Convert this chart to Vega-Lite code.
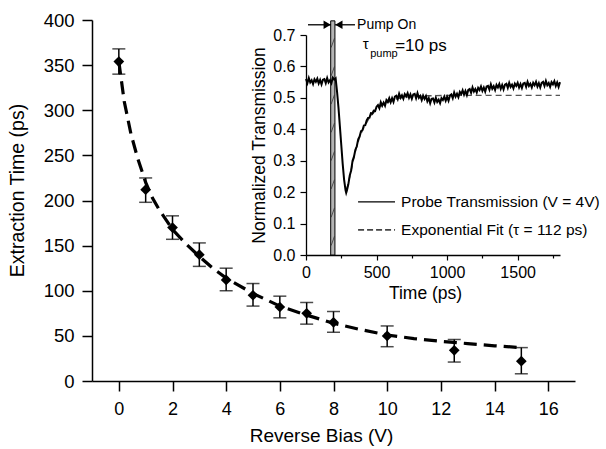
{
  "$schema": "https://vega.github.io/schema/vega-lite/v6.json",
  "width": 483,
  "height": 361,
  "autosize": "none",
  "padding": {"left": 92, "top": 20, "right": 31, "bottom": 68},
  "background": "white",
  "config": {
    "view": {"stroke": null},
    "font": "Liberation Sans",
    "axis": {"grid": false, "domainColor": "black", "tickColor": "black", "labelColor": "black", "titleColor": "black", "titleFontWeight": "normal", "labelFont": "Liberation Sans", "titleFont": "Liberation Sans", "labelOverlap": false, "labelFlush": false}
  },
  "datasets": {
    "points": [
      {"bias": 0, "time": 354, "lo": 340, "hi": 368},
      {"bias": 1, "time": 212, "lo": 198, "hi": 225},
      {"bias": 2, "time": 170, "lo": 157, "hi": 183},
      {"bias": 3, "time": 140, "lo": 127, "hi": 153},
      {"bias": 4, "time": 112, "lo": 100, "hi": 125},
      {"bias": 5, "time": 95, "lo": 83, "hi": 108},
      {"bias": 6, "time": 82, "lo": 70, "hi": 94},
      {"bias": 7, "time": 75, "lo": 63, "hi": 87},
      {"bias": 8, "time": 65, "lo": 54, "hi": 77},
      {"bias": 10, "time": 50, "lo": 38, "hi": 61},
      {"bias": 12.5, "time": 34, "lo": 21, "hi": 46},
      {"bias": 15, "time": 22, "lo": 8, "hi": 37}
    ],
    "fit": [
      {"bias": 0, "time": 354}, {"bias": 0.2, "time": 310}, {"bias": 0.45, "time": 274}, {"bias": 0.7, "time": 247},
      {"bias": 1, "time": 220}, {"bias": 1.25, "time": 203}, {"bias": 1.5, "time": 190}, {"bias": 2, "time": 168},
      {"bias": 2.5, "time": 152}, {"bias": 3, "time": 138}, {"bias": 3.5, "time": 125}, {"bias": 4, "time": 114},
      {"bias": 5, "time": 97}, {"bias": 6, "time": 83}, {"bias": 7, "time": 73}, {"bias": 8, "time": 64},
      {"bias": 9, "time": 57}, {"bias": 10, "time": 51}, {"bias": 11, "time": 47}, {"bias": 12, "time": 44},
      {"bias": 13, "time": 41.5}, {"bias": 14, "time": 39}, {"bias": 15, "time": 37}
    ],
    "trace": [
      {"t":0,"v":0.560},{"t":10,"v":0.547},{"t":20,"v":0.563},{"t":30,"v":0.549},{"t":40,"v":0.556},{"t":50,"v":0.544},{"t":60,"v":0.559},{"t":70,"v":0.551},{"t":80,"v":0.561},{"t":90,"v":0.546},
      {"t":100,"v":0.557},{"t":110,"v":0.543},{"t":120,"v":0.558},{"t":130,"v":0.560},{"t":140,"v":0.547},{"t":150,"v":0.563},{"t":160,"v":0.549},{"t":170,"v":0.556},{"t":180,"v":0.547},{"t":190,"v":0.564},
      {"t":200,"v":0.558},{"t":210,"v":0.562},{"t":220,"v":0.520},{"t":230,"v":0.470},{"t":240,"v":0.410},{"t":250,"v":0.350},{"t":260,"v":0.290},{"t":270,"v":0.240},{"t":280,"v":0.207},{"t":285,"v":0.198},
      {"t":290,"v":0.205},{"t":300,"v":0.225},{"t":310,"v":0.253},{"t":320,"v":0.269},{"t":330,"v":0.300},{"t":340,"v":0.313},{"t":350,"v":0.335},{"t":360,"v":0.346},{"t":370,"v":0.368},{"t":380,"v":0.377},
      {"t":390,"v":0.394},{"t":400,"v":0.397},{"t":410,"v":0.412},{"t":420,"v":0.413},{"t":430,"v":0.428},{"t":440,"v":0.436},{"t":450,"v":0.437},{"t":460,"v":0.451},{"t":470,"v":0.450},{"t":480,"v":0.459},
      {"t":490,"v":0.458},{"t":500,"v":0.472},{"t":510,"v":0.477},{"t":520,"v":0.467},{"t":530,"v":0.486},{"t":540,"v":0.475},{"t":550,"v":0.485},{"t":560,"v":0.475},{"t":570,"v":0.493},{"t":580,"v":0.487},
      {"t":590,"v":0.499},{"t":600,"v":0.486},{"t":610,"v":0.499},{"t":620,"v":0.487},{"t":630,"v":0.504},{"t":640,"v":0.507},{"t":650,"v":0.496},{"t":660,"v":0.513},{"t":670,"v":0.500},{"t":680,"v":0.508},
      {"t":690,"v":0.497},{"t":700,"v":0.512},{"t":710,"v":0.505},{"t":720,"v":0.515},{"t":730,"v":0.500},{"t":740,"v":0.511},{"t":750,"v":0.497},{"t":760,"v":0.511},{"t":770,"v":0.513},{"t":780,"v":0.499},
      {"t":790,"v":0.515},{"t":800,"v":0.500},{"t":810,"v":0.506},{"t":820,"v":0.493},{"t":830,"v":0.507},{"t":840,"v":0.497},{"t":850,"v":0.506},{"t":860,"v":0.489},{"t":870,"v":0.499},{"t":880,"v":0.483},
      {"t":890,"v":0.497},{"t":900,"v":0.498},{"t":910,"v":0.485},{"t":920,"v":0.500},{"t":930,"v":0.487},{"t":940,"v":0.494},{"t":950,"v":0.483},{"t":960,"v":0.499},{"t":970,"v":0.493},{"t":980,"v":0.504},
      {"t":990,"v":0.491},{"t":1000,"v":0.503},{"t":1010,"v":0.491},{"t":1020,"v":0.507},{"t":1030,"v":0.511},{"t":1040,"v":0.499},{"t":1050,"v":0.517},{"t":1060,"v":0.504},{"t":1070,"v":0.513},{"t":1080,"v":0.502},
      {"t":1090,"v":0.519},{"t":1100,"v":0.512},{"t":1110,"v":0.524},{"t":1120,"v":0.510},{"t":1130,"v":0.522},{"t":1140,"v":0.509},{"t":1150,"v":0.525},{"t":1160,"v":0.528},{"t":1170,"v":0.516},{"t":1180,"v":0.533},
      {"t":1190,"v":0.520},{"t":1200,"v":0.528},{"t":1210,"v":0.517},{"t":1220,"v":0.532},{"t":1230,"v":0.525},{"t":1240,"v":0.536},{"t":1250,"v":0.522},{"t":1260,"v":0.533},{"t":1270,"v":0.520},{"t":1280,"v":0.536},
      {"t":1290,"v":0.538},{"t":1300,"v":0.526},{"t":1310,"v":0.543},{"t":1320,"v":0.529},{"t":1330,"v":0.537},{"t":1340,"v":0.525},{"t":1350,"v":0.541},{"t":1360,"v":0.533},{"t":1370,"v":0.544},{"t":1380,"v":0.529},
      {"t":1390,"v":0.541},{"t":1400,"v":0.527},{"t":1410,"v":0.542},{"t":1420,"v":0.545},{"t":1430,"v":0.532},{"t":1440,"v":0.548},{"t":1450,"v":0.535},{"t":1460,"v":0.542},{"t":1470,"v":0.530},{"t":1480,"v":0.545},
      {"t":1490,"v":0.538},{"t":1500,"v":0.548},{"t":1510,"v":0.533},{"t":1520,"v":0.544},{"t":1530,"v":0.531},{"t":1540,"v":0.546},{"t":1550,"v":0.548},{"t":1560,"v":0.535},{"t":1570,"v":0.551},{"t":1580,"v":0.538},
      {"t":1590,"v":0.545},{"t":1600,"v":0.533},{"t":1610,"v":0.548},{"t":1620,"v":0.540},{"t":1630,"v":0.551},{"t":1640,"v":0.536},{"t":1650,"v":0.547},{"t":1660,"v":0.533},{"t":1670,"v":0.548},{"t":1680,"v":0.551},
      {"t":1690,"v":0.538},{"t":1700,"v":0.554},{"t":1710,"v":0.540},{"t":1720,"v":0.547},{"t":1730,"v":0.535},{"t":1740,"v":0.550},{"t":1750,"v":0.543},{"t":1760,"v":0.553},{"t":1770,"v":0.538},{"t":1780,"v":0.549},
      {"t":1790,"v":0.535},{"t":1800,"v":0.550}
    ],
    "inset_fit": [
      {"t":285,"v":0.205},{"t":300,"v":0.228},{"t":320,"v":0.270},{"t":350,"v":0.330},{"t":380,"v":0.375},{"t":400,"v":0.397},
      {"t":450,"v":0.437},{"t":500,"v":0.464},{"t":550,"v":0.480},{"t":600,"v":0.490},{"t":650,"v":0.498},{"t":700,"v":0.502},
      {"t":800,"v":0.506},{"t":900,"v":0.507},{"t":1000,"v":0.508},{"t":1200,"v":0.508},{"t":1500,"v":0.508},{"t":1800,"v":0.508}
    ],
    "pump": [{"t": 175, "t2": 205, "v": 0, "v2": 0.745}],
    "hatch": [
      {"t": 178, "t2": 202, "v": 0.03, "v2": 0.06}, {"t": 178, "t2": 202, "v": 0.12, "v2": 0.15},
      {"t": 178, "t2": 202, "v": 0.21, "v2": 0.24}, {"t": 178, "t2": 202, "v": 0.30, "v2": 0.33},
      {"t": 178, "t2": 202, "v": 0.39, "v2": 0.42}, {"t": 178, "t2": 202, "v": 0.48, "v2": 0.51},
      {"t": 178, "t2": 202, "v": 0.57, "v2": 0.60}, {"t": 178, "t2": 202, "v": 0.66, "v2": 0.69}
    ],
    "arrows": [{"t": 14, "t2": 177, "v": 0.7325}, {"t": 347, "t2": 206, "v": 0.7325}],
    "head_r": [{"t": 150, "v": 0.7325}],
    "head_l": [{"t": 233, "v": 0.7325}],
    "pumpon": [{"t": 362, "v": 0.7325, "label": "Pump On"}],
    "tau": [{"t": 402, "v": 0.672, "label": "τ"}],
    "sub": [{"t": 455, "v": 0.640, "label": "pump"}],
    "eq": [{"t": 632, "v": 0.664, "label": "=10 ps"}],
    "leg_solid": [{"t": 369, "t2": 631, "v": 0.169}],
    "leg_dash": [{"t": 369, "t2": 631, "v": 0.080}],
    "leg_text": [
      {"t": 674, "v": 0.169, "label": "Probe Transmission (V = 4V)"},
      {"t": 674, "v": 0.080, "label": "Exponential Fit (τ = 112 ps)"}
    ]
  },
  "layer": [
    {
      "layer": [
        {
          "data": {"name": "fit"},
          "mark": {"type": "line", "color": "black", "strokeWidth": 3.2, "strokeDash": [13, 7]},
          "encoding": {
            "x": {"field": "bias", "type": "quantitative", "title": "Reverse Bias (V)",
              "scale": {"domain": [-1, 17], "nice": false, "zero": false},
              "axis": {"orient": "bottom", "values": [0,1,2,3,4,5,6,7,8,9,10,11,12,13,14,15,16],
                "labelExpr": "datum.value % 2 === 0 ? datum.label : ''",
                "tickSize": {"condition": {"test": "datum.value % 2 === 0", "value": 10}, "value": 5},
                "tickWidth": 1.5, "domainWidth": 1.5, "labelFontSize": 18, "titleFontSize": 19,
                "labelPadding": 9, "titlePadding": 8, "titleX": 229}},
            "y": {"field": "time", "type": "quantitative", "title": "Extraction Time (ps)",
              "scale": {"domain": [0, 400], "nice": false},
              "axis": {"orient": "left", "values": [0,25,50,75,100,125,150,175,200,225,250,275,300,325,350,375,400],
                "labelExpr": "datum.value % 50 === 0 ? datum.label : ''",
                "tickSize": {"condition": {"test": "datum.value % 50 === 0", "value": 10}, "value": 5},
                "tickWidth": 1.5, "domainWidth": 1.5, "labelFontSize": 18.5, "titleFontSize": 19.5,
                "labelPadding": 8, "titlePadding": 16, "titleY": 170}}
          }
        },
        {
          "data": {"name": "points"},
          "mark": {"type": "rule", "color": "black", "strokeWidth": 1.5},
          "encoding": {
            "x": {"field": "bias", "type": "quantitative", "title": "Reverse Bias (V)"},
            "y": {"field": "lo", "type": "quantitative", "title": "Extraction Time (ps)"},
            "y2": {"field": "hi"}
          }
        },
        {
          "data": {"name": "points"},
          "mark": {"type": "tick", "orient": "horizontal", "color": "black", "size": 13, "thickness": 1.5},
          "encoding": {
            "x": {"field": "bias", "type": "quantitative", "title": "Reverse Bias (V)"},
            "y": {"field": "lo", "type": "quantitative", "title": "Extraction Time (ps)"}
          }
        },
        {
          "data": {"name": "points"},
          "mark": {"type": "tick", "orient": "horizontal", "color": "black", "size": 13, "thickness": 1.5},
          "encoding": {
            "x": {"field": "bias", "type": "quantitative", "title": "Reverse Bias (V)"},
            "y": {"field": "hi", "type": "quantitative", "title": "Extraction Time (ps)"}
          }
        },
        {
          "data": {"name": "points"},
          "mark": {"type": "point", "shape": "diamond", "filled": true, "color": "black", "size": 115, "opacity": 1},
          "encoding": {
            "x": {"field": "bias", "type": "quantitative", "title": "Reverse Bias (V)"},
            "y": {"field": "time", "type": "quantitative", "title": "Extraction Time (ps)"}
          }
        }
      ]
    },
    {
      "layer": [
        {
          "data": {"name": "pump"},
          "mark": {"type": "rect", "fill": "#b4b4b4", "stroke": "black", "strokeWidth": 1},
          "encoding": {
            "x": {"field": "t", "type": "quantitative", "title": "Time (ps)",
              "scale": {"domain": [0, 1800], "range": [214, 468], "nice": false, "zero": false},
              "axis": {"orient": "bottom", "offset": -126, "values": [0,250,500,750,1000,1250,1500,1750],
                "labelExpr": "datum.value % 500 === 0 ? datum.label : ''",
                "format": "d",
                "tickSize": {"condition": {"test": "datum.value % 500 === 0", "value": 5}, "value": 3},
                "tickWidth": 1.2, "domainWidth": 1.3, "labelFontSize": 16, "titleFontSize": 17.5,
                "labelPadding": 4, "titlePadding": 4, "titleX": 333}},
            "x2": {"field": "t2"},
            "y": {"field": "v", "type": "quantitative", "title": "Normalized Transmission",
              "scale": {"domain": [0, 0.7], "range": [235, 15], "nice": false, "zero": false},
              "axis": {"orient": "left", "offset": -214, "values": [0,0.05,0.1,0.15,0.2,0.25,0.3,0.35,0.4,0.45,0.5,0.55,0.6,0.65,0.7],
                "format": ".1f",
                "labelExpr": "abs(datum.value*10 - round(datum.value*10)) < 0.001 ? datum.label : ''",
                "tickSize": {"condition": {"test": "abs(datum.value*10 - round(datum.value*10)) < 0.001", "value": 6}, "value": 3.5},
                "tickWidth": 1.2, "domainWidth": 1.3, "labelFontSize": 16, "titleFontSize": 17.5,
                "labelPadding": 5, "titlePadding": 4}},
            "y2": {"field": "v2"}
          }
        },
        {
          "data": {"name": "hatch"},
          "mark": {"type": "rule", "color": "#333333", "strokeWidth": 0.8},
          "encoding": {
            "x": {"field": "t", "type": "quantitative", "title": "Time (ps)"}, "x2": {"field": "t2"},
            "y": {"field": "v", "type": "quantitative", "title": "Normalized Transmission"}, "y2": {"field": "v2"}
          }
        },
        {
          "data": {"name": "inset_fit"},
          "mark": {"type": "line", "color": "#555555", "strokeWidth": 1.4, "strokeDash": [6, 4]},
          "encoding": {
            "x": {"field": "t", "type": "quantitative", "title": "Time (ps)"},
            "y": {"field": "v", "type": "quantitative", "title": "Normalized Transmission"}
          }
        },
        {
          "data": {"name": "trace"},
          "mark": {"type": "line", "color": "black", "strokeWidth": 2},
          "encoding": {
            "x": {"field": "t", "type": "quantitative", "title": "Time (ps)"},
            "y": {"field": "v", "type": "quantitative", "title": "Normalized Transmission"}
          }
        },
        {
          "data": {"name": "arrows"},
          "mark": {"type": "rule", "color": "black", "strokeWidth": 1.3},
          "encoding": {
            "x": {"field": "t", "type": "quantitative", "title": "Time (ps)"}, "x2": {"field": "t2"},
            "y": {"field": "v", "type": "quantitative", "title": "Normalized Transmission"}
          }
        },
        {
          "data": {"name": "head_r"},
          "mark": {"type": "point", "shape": "triangle-right", "filled": true, "color": "black", "size": 70, "opacity": 1},
          "encoding": {
            "x": {"field": "t", "type": "quantitative", "title": "Time (ps)"},
            "y": {"field": "v", "type": "quantitative", "title": "Normalized Transmission"}
          }
        },
        {
          "data": {"name": "head_l"},
          "mark": {"type": "point", "shape": "triangle-left", "filled": true, "color": "black", "size": 70, "opacity": 1},
          "encoding": {
            "x": {"field": "t", "type": "quantitative", "title": "Time (ps)"},
            "y": {"field": "v", "type": "quantitative", "title": "Normalized Transmission"}
          }
        },
        {
          "data": {"name": "pumpon"},
          "mark": {"type": "text", "align": "left", "baseline": "middle", "fontSize": 14, "color": "black"},
          "encoding": {
            "x": {"field": "t", "type": "quantitative", "title": "Time (ps)"},
            "y": {"field": "v", "type": "quantitative", "title": "Normalized Transmission"},
            "text": {"field": "label"}
          }
        },
        {
          "data": {"name": "tau"},
          "mark": {"type": "text", "align": "left", "baseline": "middle", "fontSize": 15, "color": "black"},
          "encoding": {
            "x": {"field": "t", "type": "quantitative", "title": "Time (ps)"},
            "y": {"field": "v", "type": "quantitative", "title": "Normalized Transmission"},
            "text": {"field": "label"}
          }
        },
        {
          "data": {"name": "sub"},
          "mark": {"type": "text", "align": "left", "baseline": "middle", "fontSize": 11, "color": "black"},
          "encoding": {
            "x": {"field": "t", "type": "quantitative", "title": "Time (ps)"},
            "y": {"field": "v", "type": "quantitative", "title": "Normalized Transmission"},
            "text": {"field": "label"}
          }
        },
        {
          "data": {"name": "eq"},
          "mark": {"type": "text", "align": "left", "baseline": "middle", "fontSize": 17, "color": "black"},
          "encoding": {
            "x": {"field": "t", "type": "quantitative", "title": "Time (ps)"},
            "y": {"field": "v", "type": "quantitative", "title": "Normalized Transmission"},
            "text": {"field": "label"}
          }
        },
        {
          "data": {"name": "leg_solid"},
          "mark": {"type": "rule", "color": "black", "strokeWidth": 1.2},
          "encoding": {
            "x": {"field": "t", "type": "quantitative", "title": "Time (ps)"}, "x2": {"field": "t2"},
            "y": {"field": "v", "type": "quantitative", "title": "Normalized Transmission"}
          }
        },
        {
          "data": {"name": "leg_dash"},
          "mark": {"type": "rule", "color": "#444444", "strokeWidth": 1.6, "strokeDash": [6, 3]},
          "encoding": {
            "x": {"field": "t", "type": "quantitative", "title": "Time (ps)"}, "x2": {"field": "t2"},
            "y": {"field": "v", "type": "quantitative", "title": "Normalized Transmission"}
          }
        },
        {
          "data": {"name": "leg_text"},
          "mark": {"type": "text", "align": "left", "baseline": "middle", "fontSize": 15.5, "color": "black"},
          "encoding": {
            "x": {"field": "t", "type": "quantitative", "title": "Time (ps)"},
            "y": {"field": "v", "type": "quantitative", "title": "Normalized Transmission"},
            "text": {"field": "label"}
          }
        }
      ]
    }
  ],
  "resolve": {"scale": {"x": "independent", "y": "independent"}, "axis": {"x": "independent", "y": "independent"}}
}
